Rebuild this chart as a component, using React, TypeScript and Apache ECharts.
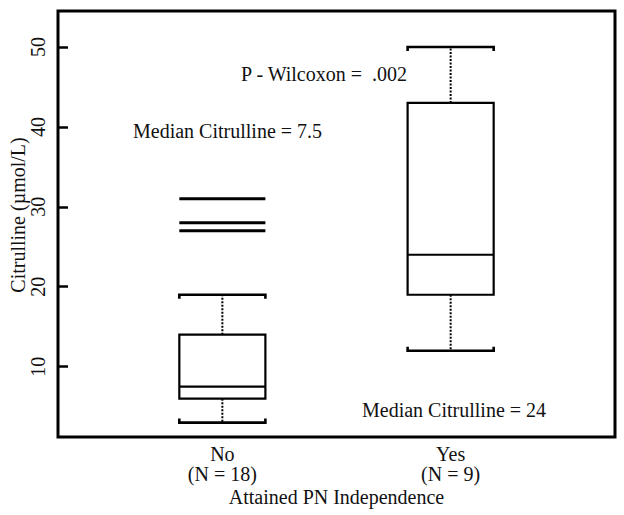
import React, { useEffect, useRef } from "react";
import * as echarts from "echarts";

const categories = ["No", "Yes"];
const nCounts = [18, 9];
const lowerWhisker = [3, 12];
const q1 = [6, 19];
const median = [7.5, 24];
const q3 = [14, 43];
const upperWhisker = [19, 50];
const outliersNo = [31, 28, 27];
const yTicks = [10, 20, 30, 40, 50];
const medianLabels = ["Median Citrulline = 7.5", "Median Citrulline = 24"];
const pText = "P - Wilcoxon =  .002";

const FONT = "Liberation Serif";
const BOX_W = 0.377;

export default function App() {
  const ref = useRef<HTMLDivElement>(null);
  useEffect(() => {
    if (!ref.current) return;
    const chart = echarts.init(ref.current, undefined, { renderer: "svg" });

    const boxData = categories.map((_, i) => [
      i + 1,
      lowerWhisker[i],
      q1[i],
      median[i],
      q3[i],
      upperWhisker[i],
    ]);
    const outlierData = outliersNo.map((v) => [1, v]);
    const txt = { color: "#111", fontFamily: FONT, fontSize: 20 };
    const gtxt = { fill: "#111", fontFamily: FONT, fontSize: 20, textVerticalAlign: "middle" };

    const option: any = {
      animation: false,
      backgroundColor: "#fff",
      grid: {
        left: 58,
        top: 11,
        right: 9,
        bottom: 78,
        show: true,
        borderColor: "#000",
        borderWidth: 3,
        containLabel: false,
        outerBoundsMode: "none",
      },
      xAxis: {
        type: "value",
        min: 0.28,
        max: 2.72,
        splitLine: { show: false },
        axisLine: { show: false },
        axisTick: { show: false },
        axisLabel: {
          ...txt,
          customValues: [1, 2],
          margin: 7,
          lineHeight: 20,
          formatter: (v: number) => {
            const i = Math.round(v) - 1;
            return categories[i] + "\n(N = " + nCounts[i] + ")";
          },
        },
        name: "Attained PN Independence",
        nameLocation: "middle",
        nameGap: 50,
        nameMoveOverlap: false,
        nameTextStyle: { ...txt },
      },
      yAxis: {
        type: "value",
        min: 1.2,
        max: 54.5,
        splitLine: { show: false },
        axisLine: { show: false },
        axisTick: {
          show: true,
          inside: true,
          length: 10,
          customValues: yTicks,
          lineStyle: { color: "#000", width: 2.5 },
        },
        axisLabel: {
          ...txt,
          customValues: yTicks,
          rotate: 90,
          margin: 10,
        },
        name: "Citrulline (µmol/L)",
        nameLocation: "middle",
        nameRotate: 90,
        nameGap: 30,
        nameMoveOverlap: false,
        nameTextStyle: { ...txt, padding: [0, 0, 0, 18] },
      },
      series: [
        {
          type: "custom",
          data: boxData,
          clip: false,
          renderItem: (params: any, api: any) => {
            const x = api.value(0);
            const half = api.size([BOX_W, 0])[0] / 2;
            const pLo = api.coord([x, api.value(1)]);
            const pQ1 = api.coord([x, api.value(2)]);
            const pMed = api.coord([x, api.value(3)]);
            const pQ3 = api.coord([x, api.value(4)]);
            const pHi = api.coord([x, api.value(5)]);
            const cx = pMed[0];
            const x0 = cx - half;
            const x1 = cx + half;
            const solid = { stroke: "#000", lineWidth: 2.2, fill: "none" };
            const dotted = { stroke: "#000", lineWidth: 2, lineDash: [2, 1.5] };
            return {
              type: "group",
              children: [
                {
                  type: "rect",
                  shape: { x: x0, y: pQ3[1], width: x1 - x0, height: pQ1[1] - pQ3[1] },
                  style: solid,
                },
                {
                  type: "line",
                  shape: { x1: x0, y1: pMed[1], x2: x1, y2: pMed[1] },
                  style: solid,
                },
                {
                  type: "line",
                  shape: { x1: cx, y1: pQ3[1], x2: cx, y2: pHi[1] },
                  style: dotted,
                },
                {
                  type: "line",
                  shape: { x1: cx, y1: pQ1[1], x2: cx, y2: pLo[1] },
                  style: dotted,
                },
                {
                  type: "polyline",
                  shape: {
                    points: [
                      [x0, pHi[1] + 4],
                      [x0, pHi[1]],
                      [x1, pHi[1]],
                      [x1, pHi[1] + 4],
                    ],
                  },
                  style: { stroke: "#000", lineWidth: 2.6, fill: "none" },
                },
                {
                  type: "polyline",
                  shape: {
                    points: [
                      [x0, pLo[1] - 4],
                      [x0, pLo[1]],
                      [x1, pLo[1]],
                      [x1, pLo[1] - 4],
                    ],
                  },
                  style: { stroke: "#000", lineWidth: 2.6, fill: "none" },
                },
              ],
            };
          },
        },
        {
          type: "custom",
          data: outlierData,
          renderItem: (params: any, api: any) => {
            const p = api.coord([api.value(0), api.value(1)]);
            const half = api.size([BOX_W, 0])[0] / 2;
            return {
              type: "line",
              shape: { x1: p[0] - half, y1: p[1], x2: p[0] + half, y2: p[1] },
              style: { stroke: "#000", lineWidth: 3 },
            };
          },
        },
      ],
      graphic: [
        { type: "text", x: 241, y: 74, style: { ...gtxt, text: pText } },
        { type: "text", x: 133, y: 131, style: { ...gtxt, text: medianLabels[0] } },
        { type: "text", x: 362, y: 410, style: { ...gtxt, text: medianLabels[1] } },
      ],
    };

    chart.setOption(option);
    return () => chart.dispose();
  }, []);

  return (
    <div
      ref={ref}
      style={{ position: "fixed", left: 0, top: 0, width: 624, height: 515, background: "#fff" }}
    />
  );
}
